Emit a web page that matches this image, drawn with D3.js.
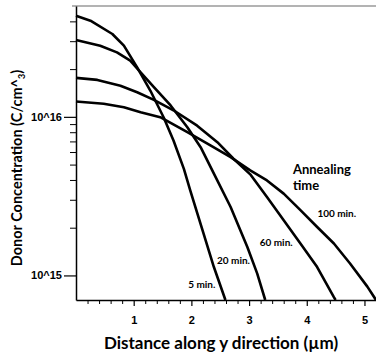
<!DOCTYPE html>
<html>
<head>
<meta charset="utf-8">
<script src="https://cdn.jsdelivr.net/npm/d3@7"></script>
<style>
  body { margin: 0; background: #fff; }
  svg { display: block; }
</style>
</head>
<body>
<svg id="chart" width="376" height="358"></svg>
<script>
// distance (um) and donor concentration (C/cm^3)
const x5 = [0, 0.25, 0.63, 0.83, 1.06, 1.29, 1.52, 1.69, 1.87, 1.98, 2.21, 2.39, 2.59];
const y5 = [4.34e16, 4.04e16, 3.33e16, 2.81e16, 2.05e16, 1.46e16, 9.9e15, 7.1e15, 4.7e15, 3.44e15, 1.84e15, 1.13e15, 7e14];

const x20 = [0, 0.42, 0.71, 0.94, 1.12, 1.35, 1.64, 1.93, 2.16, 2.39, 2.68, 2.97, 3.14, 3.28];
const y20 = [3.05e16, 2.81e16, 2.55e16, 2.26e16, 1.91e16, 1.54e16, 1.18e16, 8.6e15, 6.44e15, 4.38e15, 2.7e15, 1.51e15, 1.03e15, 7e14];

const x60 = [0, 0.37, 0.77, 1.06, 1.35, 1.69, 2.10, 2.45, 2.73, 3.02, 3.31, 3.60, 3.89, 4.18, 4.47, 4.50];
const y60 = [1.76e16, 1.71e16, 1.57e16, 1.43e16, 1.28e16, 1.1e16, 8.8e15, 6.92e15, 5.44e15, 4.34e15, 3.12e15, 2.23e15, 1.59e15, 1.13e15, 7.3e14, 7e14];

const x100 = [0, 0.48, 0.83, 1.12, 1.46, 1.93, 2.33, 2.68, 3.02, 3.31, 3.60, 3.89, 4.18, 4.47, 4.75, 5.05, 5.2];
const y100 = [1.25e16, 1.21e16, 1.15e16, 1.07e16, 9.95e15, 8.0e15, 6.6e15, 5.57e15, 4.6e15, 3.97e15, 3.28e15, 2.58e15, 2.02e15, 1.59e15, 1.19e15, 8.5e14, 7e14];

const seriesX = [x5, x20, x60, x100];
const seriesY = [y5, y20, y60, y100];
const seriesLabels = ["5 min.", "20 min.", "60 min.", "100 min."];
// label centres (data coords) for each series label
const labelX = [2.18, 2.73, 3.47, 4.52];
const labelY = [8.6e14, 1.22e15, 1.59e15, 2.44e15];

const xMajor = [1, 2, 3, 4, 5];
const yMajor = [1e15, 1e16];
const yMinor = [2e15, 3e15, 4e15, 5e15, 6e15, 7e15, 8e15, 9e15, 2e16, 3e16, 4e16];

const margin = { top: 6, right: 0, bottom: 58, left: 76 };
const width = 376;
const height = 358;
const chartWidth = width - margin.left - margin.right;
const chartHeight = height - margin.top - margin.bottom;
const fontFamily = "'Liberation Sans', Arial, sans-serif";
const titleFont = "Lato, 'Open Sans', sans-serif";

const svg = d3.select("#chart");

const xScale = d3.scaleLinear()
    .domain([0, 5.2])
    .range([0, chartWidth]);

const yScale = d3.scaleLog()
    .domain([7e14, 5e16])
    .range([chartHeight, 0]);

const chart = svg.append("g")
    .attr("transform", "translate(" + margin.left + "," + margin.top + ")");

// top frame line
chart.append("line")
    .attr("x1", -4).attr("x2", chartWidth)
    .attr("y1", 0).attr("y2", 0)
    .style("stroke", "#9a9a9a")
    .style("stroke-width", "1.5px");

// x axis: minor then major ticks
const xMinorVals = d3.range(1, 27).map(d => d * 0.2).filter(d => Math.abs(d - Math.round(d)) > 1e-6);
chart.append("g")
    .attr("transform", "translate(0," + chartHeight + ")")
    .call(d3.axisBottom(xScale).tickValues(xMinorVals).tickSize(4).tickFormat(""))
    .call(g => g.select(".domain").remove())
    .call(g => g.selectAll("line").style("stroke", "#000").style("stroke-width", "1px"));

chart.append("g")
    .attr("transform", "translate(0," + chartHeight + ")")
    .call(d3.axisBottom(xScale).tickValues(xMajor).tickSize(6).tickSizeOuter(0).tickPadding(10).tickFormat(d3.format("d")))
    .call(g => g.select(".domain").style("stroke", "#000").style("stroke-width", "1.5px"))
    .call(g => g.selectAll("line").style("stroke", "#000").style("stroke-width", "1.2px"))
    .call(g => g.selectAll("text")
        .style("font-family", fontFamily)
        .style("font-size", "11px")
        .style("font-weight", "bold")
        .style("fill", "#000"));

// y axis: minor then major ticks
chart.append("g")
    .call(d3.axisLeft(yScale).tickValues(yMinor).tickSize(6).tickFormat(""))
    .call(g => g.select(".domain").remove())
    .call(g => g.selectAll("line").style("stroke", "#000").style("stroke-width", "1px"));

chart.append("g")
    .call(d3.axisLeft(yScale).tickValues(yMajor).tickSize(12).tickSizeOuter(0).tickPadding(2)
        .tickFormat(d => "10^" + Math.round(Math.log10(d))))
    .call(g => g.select(".domain").style("stroke", "#000").style("stroke-width", "1.5px"))
    .call(g => g.selectAll("line").style("stroke", "#000").style("stroke-width", "1.2px"))
    .call(g => g.selectAll("text")
        .style("font-family", fontFamily)
        .style("font-size", "11px")
        .style("font-weight", "bold")
        .style("fill", "#000"));

// curves
for (let i = 0; i < seriesX.length; i++) {
    const pts = seriesX[i].map((x, j) => [x, seriesY[i][j]]);
    const lineGen = d3.line()
        .x(d => xScale(d[0]))
        .y(d => yScale(d[1]));

    chart.append("path")
        .datum(pts)
        .style("fill", "none")
        .style("stroke", "#000")
        .style("stroke-width", "2.6px")
        .style("stroke-linejoin", "round")
        .attr("d", lineGen);

    chart.append("text")
        .attr("x", xScale(labelX[i]))
        .attr("y", yScale(labelY[i]))
        .attr("text-anchor", "middle")
        .attr("dominant-baseline", "middle")
        .style("font-family", titleFont)
        .style("font-size", "10px")
        .style("font-weight", "bold")
        .style("fill", "#000")
        .text(seriesLabels[i]);
}

// legend heading
const heading = chart.append("text")
    .attr("x", xScale(3.76))
    .attr("y", yScale(4.36e15))
    .style("font-family", titleFont)
    .style("font-size", "13px")
    .style("font-weight", "bold")
    .style("fill", "#000");
heading.append("tspan").text("Annealing");
heading.append("tspan").attr("x", xScale(3.76)).attr("dy", 16).text("time");

// axis titles
svg.append("text")
    .attr("x", 221)
    .attr("y", 349)
    .attr("text-anchor", "middle")
    .style("font-family", titleFont)
    .style("font-size", "17px")
    .style("font-weight", "bold")
    .style("fill", "#000")
    .text("Distance along y direction (µm)");

const yTitle = svg.append("text")
    .attr("transform", "translate(22,168) rotate(-90)")
    .attr("text-anchor", "middle")
    .style("font-family", titleFont)
    .style("font-size", "14.5px")
    .style("font-weight", "bold")
    .style("fill", "#000");
yTitle.append("tspan").text("Donor Concentration (C/cm^");
yTitle.append("tspan").attr("dy", 3).style("font-size", "9px").text("3");
yTitle.append("tspan").attr("dy", -3).text(")");
</script>
</body>
</html>
